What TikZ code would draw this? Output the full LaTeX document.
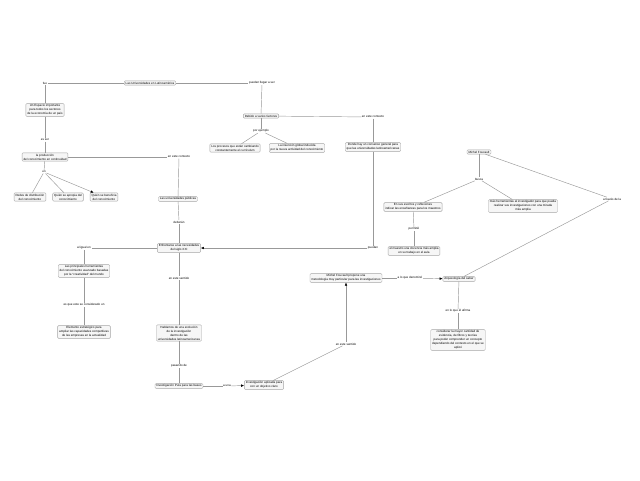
\documentclass[tikz,border=0pt]{standalone}
\usepackage{fontspec}
\setmainfont{Liberation Sans}
\usetikzlibrary{arrows.meta}

\begin{document}
\begin{tikzpicture}[x=1pt, y=-1pt,
  font=\fontsize{3}{4}\selectfont,
  main/.style = {draw=gray!70, fill=cyan!4!gray!8, rounded corners=1pt, align=center, inner xsep=1.5pt, inner ysep=1pt, line width=0.4pt},
  link/.style = {fill=white, inner sep=0.5pt, align=center},
  conn/.style = {draw=gray!80, line width=0.45pt},
  tip/.style = {-{Latex[length=3pt,width=2.6pt,color=black]}}]
\useasboundingbox[fill=white] (0,0) rectangle (640,480);
% conceptos
\node[main] (univ) at (150,83) {Las Universidades en Latinoamérica};
\node[main] (espacio) at (45,110) {Un Espacio importante\\para todos los sectores\\de la economía de un país};
\node[main] (produccion) at (45,157) {la producción\\del conocimiento en continuidad};
\node[main] (redes) at (30,197) {Redes de distribución\\del conocimiento};
\node[main] (apropia) at (68,197) {Quién se apropia del\\conocimiento};
\node[main] (beneficia) at (104,197) {Quién se beneficia\\del conocimiento};
\node[main] (publicas) at (178,199) {Las universidades públicas};
\node[main] (enfrentan) at (179,248) {Enfrentarse a las necesidades\\del siglo XXI};
\node[main] (herramientas) at (84,271) {Las principales herramientas\\del conocimiento avanzado basadas\\por la ``creatividad'' del mundo};
\node[main] (elemento) at (84,332) {Elemento estratégico para\\ampliar las capacidades competitivas\\de las empresas en la actualidad};
\node[main] (hablamos) at (179,333) {Hablamos de una evolución\\de la investigación\\dentro de las\\universidades latinoamericanas};
\node[main] (pura) at (179,386) {Investigación Pura para las bases};
\node[main] (aplicada) at (264,385) {Investigación aplicada para\\con un objetivo claro};
\node[main] (propone) at (346,278) {Michel Foucault propone una\\metodología muy particular para las investigaciones};
\node[main] (arqueologia) at (459,279) {Arqueología del saber};
\node[main] (considerar) at (458,340) {considerar la mayor cantidad de\\evidencia, de filtros y teorías\\para poder comprender un concepto\\dependiendo del contexto en el que se\\aplicó};
\node[main] (debido) at (261,116) {Debido a varios factores};
\node[main] (procesos) at (235,148) {Los procesos que están cambiando\\constantemente el currículum};
\node[main] (insercion) at (297,148) {La inserción global inducida\\por la nueva actividad del conocimiento};
\node[main] (donde) at (373,147) {Donde hay un consenso general para\\que las universidades latinoamericanas};
\node[main] (foucault) at (479,152) {Michel Foucault};
\node[main] (escritos) at (413,207) {En sus escritos y reflexiones\\indicar las enseñanzas para los maestros};
\node[main] (maestro) at (414,251) {el maestro una docencia más amplia\\en su trabajo en el aula};
\node[main] (masherr) at (523,206) {más herramientas al investigador para que pueda\\realizar sus investigaciones con una mirada\\más amplia};
% frases de enlace
\node[link] (lfue) at (45,83) {fue};
\node[link] (lpueden) at (262,83) {pueden llegar a ser};
\node[link] (lesser) at (45,140) {es ser};
\node[link] (lcontextoa) at (179,157) {en este contexto};
\node[link] (len) at (44,172) {en};
\node[link] (ldeberan) at (179,222) {deberán};
\node[link] (ligual) at (84,248) {al igual en};
\node[link] (lconsidera) at (84,305) {es que este se considerado un};
\node[link] (lsentidoa) at (179,278) {en este sentido};
\node[link] (lpasando) at (179,366) {pasando de};
\node[link] (launa) at (227,386) {a una};
\node[link] (lsentidob) at (346,344) {en este sentido};
\node[link] (ldenomino) at (410,278) {a lo que denominó};
\node[link] (lafirma) at (458,311) {en lo que él afirma};
\node[link] (lejemplo) at (261,131) {por ejemplo};
\node[link] (lcontextob) at (373,117) {en este contexto};
\node[link] (lpuedan) at (373,248) {puedan};
\node[link] (lbusca) at (479,179) {busca};
\node[link] (lpermitio) at (414,229) {permitió};
\node[link] (ltraves) at (612,199) {a través de la};
% conexiones
\draw[conn] (univ) -- (lfue);
\draw[conn] (lfue) -- (espacio);
\draw[conn] (espacio) -- (lesser);
\draw[conn] (lesser) -- (produccion);
\draw[conn] (produccion) -- (lcontextoa);
\draw[conn] (lcontextoa) -- (publicas);
\draw[conn] (produccion) -- (len);
\draw[conn] (len) -- (redes);
\draw[conn] (len) -- (apropia);
\draw[conn, tip] (len) -- (beneficia);
\draw[conn] (publicas) -- (ldeberan);
\draw[conn] (ldeberan) -- (enfrentan);
\draw[conn] (enfrentan) -- (ligual);
\draw[conn] (ligual) -- (herramientas);
\draw[conn] (herramientas) -- (lconsidera);
\draw[conn] (lconsidera) -- (elemento);
\draw[conn] (enfrentan) -- (lsentidoa);
\draw[conn] (lsentidoa) -- (hablamos);
\draw[conn] (hablamos) -- (lpasando);
\draw[conn] (lpasando) -- (pura);
\draw[conn] (pura) -- (launa);
\draw[conn, tip] (launa) -- (aplicada);
\draw[conn] (aplicada) -- (lsentidob);
\draw[conn, tip] (lsentidob) -- (propone);
\draw[conn] (propone) -- (ldenomino);
\draw[conn, tip] (ldenomino) -- (arqueologia);
\draw[conn] (arqueologia) -- (lafirma);
\draw[conn] (lafirma) -- (considerar);
\draw[conn] (univ) -- (lpueden);
\draw[conn] (lpueden) -- (debido);
\draw[conn] (debido) -- (lejemplo);
\draw[conn] (lejemplo) -- (procesos);
\draw[conn] (lejemplo) -- (insercion);
\draw[conn] (debido) -- (lcontextob);
\draw[conn] (lcontextob) -- (donde);
\draw[conn] (donde) -- (lpuedan);
\draw[conn, tip] (lpuedan) -- (enfrentan);
\draw[conn] (foucault) -- (lbusca);
\draw[conn] (lbusca) -- (escritos);
\draw[conn] (lbusca) -- (masherr);
\draw[conn] (escritos) -- (lpermitio);
\draw[conn] (lpermitio) -- (maestro);
\draw[conn] (foucault) -- (ltraves);
\draw[conn] (ltraves) -- (arqueologia);
\end{tikzpicture}
\end{document}
